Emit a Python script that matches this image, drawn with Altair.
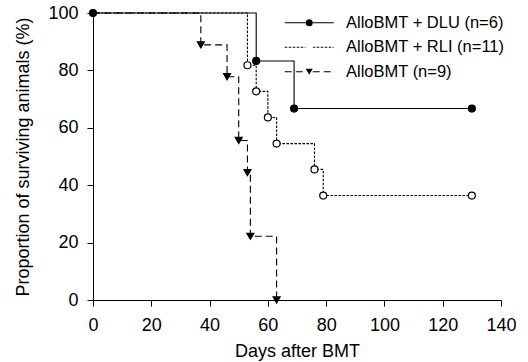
import altair as alt
import pandas as pd

FONT = "Liberation Sans"

# ---- data ----
series_names = ["AlloBMT + DLU (n=6)", "AlloBMT + RLI (n=11)", "AlloBMT (n=9)"]
marker_keys = ["DLU", "RLI", "AlloBMT"]

dlu_days = [0, 56, 69, 130]
dlu_surv = [100, 83.3, 66.7, 66.7]
dlu_mark = [True, True, True, True]

rli_days = [0, 53, 56, 60, 63, 76, 79, 130]
rli_surv = [100, 81.8, 72.7, 63.6, 54.5, 45.5, 36.4, 36.4]
rli_mark = [False, True, True, True, True, True, True, True]

allo_days = [0, 37, 46, 50, 53, 54, 63]
allo_surv = [100, 88.9, 77.8, 55.6, 44.4, 22.2, 0]
allo_mark = [False, True, True, True, True, True, True]

x_ticks = [0, 20, 40, 60, 80, 100, 120, 140]
y_ticks = [0, 20, 40, 60, 80, 100]

rows = []
for name, key, days, surv, mark in [
    (series_names[2], marker_keys[2], allo_days, allo_surv, allo_mark),
    (series_names[1], marker_keys[1], rli_days, rli_surv, rli_mark),
    (series_names[0], marker_keys[0], dlu_days, dlu_surv, dlu_mark),
]:
    for d, s, m in zip(days, surv, mark):
        rows.append({"series": name, "grp": key, "day": d, "surv": s, "marker": m})
df = pd.DataFrame(rows)

legend_common = dict(
    title=None,
    orient="none",
    legendX=208,
    legendY=1.5,
    padding=0,
    symbolSize=49,
    symbolStrokeWidth=1.2,
    symbolStrokeColor="black",
    labelFont=FONT,
    labelFontSize=16.5,
    labelColor="black",
    labelOffset=28.5,
    labelLimit=300,
    rowPadding=7.5,
)

x_enc = alt.X(
    "day:Q",
    scale=alt.Scale(domain=[0, 140], nice=False),
    axis=alt.Axis(values=x_ticks, title="Days after BMT", labelPadding=10,
                  titlePadding=8, labelFlush=False),
)
y_enc = alt.Y(
    "surv:Q",
    scale=alt.Scale(domain=[0, 100], nice=False),
    axis=alt.Axis(values=y_ticks, title="Proportion of surviving animals (%)",
                  labelPadding=9, titlePadding=15),
)

base = alt.Chart(df)

lines = base.mark_line(interpolate="step-after", color="black", strokeWidth=1.1).encode(
    x=x_enc,
    y=y_enc,
    strokeDash=alt.StrokeDash(
        "series:N",
        scale=alt.Scale(domain=series_names, range=[[1, 0], [2.5, 1.5], [7, 4]]),
        legend=alt.Legend(symbolType="M-7,0H-1M1,0H7", **legend_common),
    ),
)

points = base.transform_filter("datum.marker").mark_point(
    stroke="black", strokeWidth=1.2, size=49, opacity=1
).encode(
    x=x_enc,
    y=y_enc,
    shape=alt.Shape(
        "grp:N",
        scale=alt.Scale(domain=marker_keys, range=["circle", "circle", "triangle-down"]),
        legend=alt.Legend(labelExpr="''", **legend_common),
    ),
    fill=alt.Fill(
        "grp:N",
        scale=alt.Scale(domain=marker_keys, range=["black", "white", "black"]),
        legend=alt.Legend(labelExpr="''", **legend_common),
    ),
)

chart = (
    alt.layer(lines, points)
    .properties(
        width=408,
        height=287,
        padding={"left": 93, "top": 13, "right": 27, "bottom": 62},
        autosize=alt.AutoSizeParams(type="none"),
        background="white",
    )
    .configure_view(stroke="transparent")
    .configure_axis(
        grid=False,
        labelFont=FONT,
        labelFontSize=18,
        labelColor="black",
        titleFont=FONT,
        titleFontSize=18,
        titleFontWeight="normal",
        titleColor="black",
        domainColor="black",
        domainWidth=1,
        tickColor="black",
        tickSize=6,
        tickWidth=1,
    )
)

chart.save("out.html", embed_options={"renderer": "svg", "actions": False})
